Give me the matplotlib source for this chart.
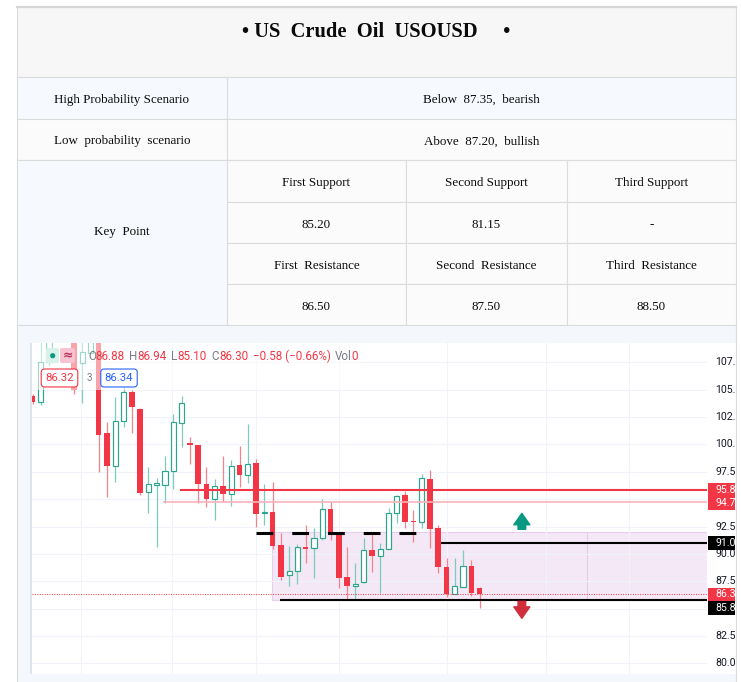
import matplotlib
matplotlib.use("Agg")
import matplotlib.pyplot as plt
from matplotlib.patches import Rectangle, FancyBboxPatch, Circle

# ---------------- data ----------------
title = "• US  Crude  Oil  USOUSD     •"
row_labels = ["High Probability Scenario", "Low  probability  scenario", "Key  Point"]
row_values = ["Below  87.35,  bearish", "Above  87.20,  bullish"]
support_headers = ["First Support", "Second Support", "Third Support"]
support_values = ["85.20", "81.15", "-"]
resist_headers = ["First  Resistance", "Second  Resistance", "Third  Resistance"]
resist_values = ["86.50", "87.50", "88.50"]

opens = [104.40, 103.85, 107.50, 109.80, 110.60, 110.20, 107.40, 108.32, 109.60, 101.02,
         98.00, 102.11, 104.76, 103.21, 95.63, 96.27, 96.27, 97.55, 101.93, 100.10,
         99.92, 96.36, 94.99, 96.18, 95.45, 98.09, 97.18, 98.28, 93.71, 93.80,
         90.79, 88.05, 88.41, 90.61, 90.52, 91.43, 94.08, 91.88, 87.87, 87.04,
         87.41, 90.33, 89.78, 90.42, 93.71, 95.35, 92.98, 92.89, 96.82, 92.34,
         88.78, 86.31, 86.95, 88.87, 86.88]
highs = [104.60, 109.60, 110.20, 111.00, 111.20, 110.80, 109.50, 110.00, 110.20, 102.02,
         104.30, 105.22, 104.94, 103.30, 97.91, 96.91, 98.92, 102.75, 104.39, 100.65,
         99.95, 97.91, 96.82, 98.92, 98.55, 99.83, 101.84, 98.64, 96.36, 96.54,
         91.88, 90.70, 90.88, 92.61, 92.34, 94.99, 94.71, 91.97, 90.61, 89.14,
         91.43, 91.88, 90.97, 94.17, 95.35, 95.72, 93.98, 97.27, 97.64, 92.61,
         89.60, 89.60, 90.33, 89.42, 86.94]
lows = [103.70, 103.57, 107.20, 109.50, 109.60, 104.60, 103.76, 108.00, 97.45, 95.17,
        96.54, 101.56, 101.02, 95.35, 93.71, 90.61, 94.62, 95.90, 99.74, 98.18,
        94.62, 94.26, 93.07, 94.71, 94.35, 96.08, 96.45, 92.43, 92.61, 90.42,
        87.59, 87.04, 87.23, 89.14, 87.77, 91.24, 91.24, 86.86, 85.76, 85.76,
        87.32, 88.32, 86.40, 90.42, 92.80, 92.34, 91.06, 92.34, 90.52, 88.23,
        86.04, 86.31, 86.95, 86.13, 85.10]
closes = [103.85, 107.50, 109.80, 110.60, 110.20, 104.94, 108.40, 109.60, 100.83, 98.00,
          102.11, 104.76, 103.39, 95.54, 96.36, 96.45, 97.55, 102.02, 103.76, 99.92,
          96.36, 94.99, 96.18, 95.45, 98.00, 97.18, 98.18, 93.62, 93.80, 90.70,
          87.87, 88.41, 90.61, 90.42, 91.43, 94.08, 91.88, 87.77, 87.04, 87.23,
          90.33, 89.78, 90.42, 93.71, 95.26, 92.89, 92.89, 96.91, 92.25, 88.78,
          86.31, 87.04, 88.87, 86.40, 86.30]

price_ticks = [80.0, 82.5, 85.0, 87.5, 90.0, 92.5, 95.0, 97.5, 100.0, 102.5, 105.0, 107.5]
time_grid = [5.9, 16.9, 27.0, 37.0, 50.0, 62.0, 72.0]

# drawn levels
resist_red = (95.86, 17.8)
resist_pink = (94.74, 15.8)
dashed_level = (91.93, 27.0, 47.2)
upper_black = (91.00, 49.3)
lower_black = (85.80, 29.9)
last_price = 86.31
zone = (28.9, 85.80, 92.00)   # start index, low, high
zone_divider = 67.0
arrow_up = (59.1, 92.25, 93.71)
arrow_down = (59.1, 85.67, 84.12)

scale_labels = [(95.86, "#f23645"), (94.74, "#f23645"), (91.00, "#000000"),
                (86.31, "#f23645"), (85.80, "#000000")]
SCALE_CHARS = 4  # the price scale is cut off after four characters

legend_parts = [("O", "#787b86"), ("86.88", "#f23645"), ("H", "#787b86"), ("86.94", "#f23645"),
                ("L", "#787b86"), ("85.10", "#f23645"), ("C", "#787b86"), ("86.30", "#f23645"),
                ("−0.58 (−0.66%)", "#f23645"), ("Vol", "#787b86"), ("0", "#f23645")]
legend_gaps = [0, 0, 4.5, 0, 4.5, 0, 4.5, 0, 4.5, 4.5, 0]
bid_price, ask_price, spread = "86.32", "86.34", "3"

# ---------------- figure ----------------
W, H, DPI = 741, 682, 100
fig = plt.figure(figsize=(W / DPI, H / DPI), dpi=DPI)
fig.patch.set_facecolor("white")

bg = fig.add_axes([0, 0, 1, 1])
bg.set_xlim(0, W)
bg.set_ylim(H, 0)
bg.axis("off")

BORDER = "#dcdcdc"
SERIF = "Liberation Serif"


def cell(x0, y0, x1, y1, fc):
    bg.add_patch(Rectangle((x0, y0), x1 - x0, y1 - y0, facecolor=fc, edgecolor=BORDER, lw=0.8))


def ctext(x, y, s, size=9.4, weight="normal"):
    bg.text(x, y + 1.8, s, ha="center", va="center", fontsize=size, fontweight=weight,
            family=SERIF, color="#0a0a0a")


L, R = 17, 736
C1, C2, C3 = 227, 406, 567
cell(L, 7, R, 77, "#f7f7f7")
bg.plot([L, R], [7, 7], color="#d6d6d6", lw=1.6)
ctext((L + R) / 2, 30, title, size=14.8, weight="bold")

cell(L, 77, C1, 119, "#f6f9fd")
cell(C1, 77, R, 119, "#f6f9fd")
ctext((L + C1) / 2, 98, row_labels[0])
ctext((C1 + R) / 2, 98, row_values[0])

cell(L, 119, C1, 160, "#fbfbfb")
cell(C1, 119, R, 160, "#fbfbfb")
ctext((L + C1) / 2, 139.5, row_labels[1])
ctext((C1 + R) / 2, 139.5, row_values[1])

cell(L, 160, C1, 325, "#f6f9fd")
ctext((L + C1) / 2, 230.5, row_labels[2])
cols = [C1, C2, C3, R]
rows = [160, 201.5, 243, 284, 325]
sub_rows = [support_headers, support_values, resist_headers, resist_values]
for r in range(4):
    for c in range(3):
        cell(cols[c], rows[r], cols[c + 1], rows[r + 1], "#fbfbfb")
        ctext((cols[c] + cols[c + 1]) / 2, (rows[r] + rows[r + 1]) / 2 + 0.5, sub_rows[r][c])

# chart cell
cell(L, 325, R, 690, "#f4f7fb")
bg.add_patch(Rectangle((30, 343), 2.3, 331, facecolor="#dfe3eb", edgecolor="none"))

# ---------------- chart ----------------
PX_X0, PX_X1, PX_Y0, PX_Y1 = 32.3, 707, 343, 674
STEP, X_ORIGIN = 8.28, 32.5
PPU, Y_REF, P_REF = 10.95, 362.3, 107.5


def px_to_price(y):
    return P_REF - (y - Y_REF) / PPU


ylim = (px_to_price(PX_Y1), px_to_price(PX_Y0))
xlim = ((PX_X0 - X_ORIGIN) / STEP, (PX_X1 - X_ORIGIN) / STEP)

ax = fig.add_axes([PX_X0 / W, 1 - PX_Y1 / H, (PX_X1 - PX_X0) / W, (PX_Y1 - PX_Y0) / H])
ax.set_facecolor("white")
ax.set_xlim(*xlim)
ax.set_ylim(*ylim)
ax.set_yticks(price_ticks)
ax.set_xticks(time_grid)
ax.grid(True, color="#f0f3fa", lw=0.8, zorder=0)
ax.tick_params(length=0, labelleft=False, labelbottom=False)
for s in ax.spines.values():
    s.set_visible(False)

UP_EDGE, UP_WICK = "#2ca58d", "#7ccbbb"
DN_BODY, DN_WICK = "#f23645", "#f5838d"

ax.add_patch(Rectangle((zone[0], zone[1]), xlim[1] - zone[0] + 1, zone[2] - zone[1],
                       facecolor="#f3e5f5", edgecolor="#e6c8ec", lw=0.8, alpha=0.85, zorder=1))
ax.vlines(zone_divider, zone[1], zone[2], color="#e6c8ec", lw=0.8, zorder=1)

for i, (o, h, l, c) in enumerate(zip(opens, highs, lows, closes)):
    up = c >= o
    ax.vlines(i, l, h, color=UP_WICK if up else DN_WICK, lw=0.9, zorder=3)
    bottom = min(o, c)
    height = max(abs(c - o), 0.1)
    if up:
        ax.bar(i, height, 0.62, bottom, facecolor="white", edgecolor=UP_EDGE, lw=0.85, zorder=4)
    else:
        ax.bar(i, height, 0.66, bottom, color=DN_BODY, lw=0, zorder=4)

right = xlim[1] + 1
ax.hlines(resist_red[0], resist_red[1], right, color="#f23645", lw=1.5, zorder=5)
ax.hlines(resist_pink[0], resist_pink[1], right, color="#f8b3ba", lw=1.2, zorder=5)
ax.hlines(dashed_level[0], dashed_level[1], dashed_level[2], color="black", lw=2.2,
          linestyles=(0, (5.5, 6.2)), zorder=5)
ax.hlines(upper_black[0], upper_black[1], right, color="black", lw=1.5, zorder=5)
ax.hlines(lower_black[0], lower_black[1], right, color="black", lw=1.5, zorder=5)
ax.axhline(last_price, color="#f23645", lw=0.7, ls=(0, (1, 1.5)), zorder=5)

for (xa, base, tip), col in [(arrow_up, "#089981"), (arrow_down, "#d12f3c")]:
    ax.annotate("", xy=(xa, tip), xytext=(xa, base),
                arrowprops=dict(arrowstyle="simple,head_length=0.75,head_width=1.05,tail_width=0.5",
                                color=col, shrinkA=0, shrinkB=0, mutation_scale=11), zorder=6)

# price scale (cell ends at x=735, the scale is cut there)
CELL_R = 735
ps = fig.add_axes([PX_X1 / W, 1 - PX_Y1 / H, (W - PX_X1) / W, (PX_Y1 - PX_Y0) / H])
ps.set_facecolor("white")
ps.set_ylim(*ylim)
ps.set_xlim(0, W - PX_X1)
ps.set_xticks([])
ps.set_yticks([])
for s in ps.spines.values():
    s.set_visible(False)

SCALE_FONT = "Roboto"
SCALE_SIZE = 7.6
box_h = 13.5 / PPU

# label boxes, pushed down where they would collide
box_centers = []
prev = None
for price, col in sorted(scale_labels, key=lambda p: -p[0]):
    cy = price if prev is None else min(price, prev - box_h)
    prev = cy
    box_centers.append(cy)
    ps.add_patch(Rectangle((1, cy - box_h / 2), CELL_R - PX_X1 - 1, box_h, facecolor=col,
                           edgecolor="none", zorder=5))
    ps.text(8.5, cy, f"{price:.2f}"[:SCALE_CHARS], ha="left", va="center", fontsize=SCALE_SIZE,
            color="white", family=SCALE_FONT, zorder=6)

# tick labels hidden behind a label box are not drawn (as on the scale)
for v in price_ticks:
    if any(abs(v - cy) < 0.6 for cy in box_centers):
        continue
    ps.text(8.5, v, f"{v:.2f}"[:SCALE_CHARS], ha="left", va="center", fontsize=SCALE_SIZE,
            color="#131722", family=SCALE_FONT, zorder=2)

# ---------------- legend overlay ----------------
ov = fig.add_axes([0, 0, 1, 1], zorder=10)
ov.set_xlim(0, W)
ov.set_ylim(H, 0)
ov.axis("off")
ov.patch.set_alpha(0)

ov.plot([CELL_R + 0.5, CELL_R + 0.5], [325, H], color=BORDER, lw=0.8)
ov.add_patch(Rectangle((PX_X0, PX_Y0), 330, 47, facecolor="white", edgecolor="none", alpha=0.55))
ov.add_patch(FancyBboxPatch((46, 348), 13, 15, boxstyle="round,pad=0,rounding_size=2",
                            facecolor="#d8f1ea", edgecolor="none"))
ov.add_patch(Circle((52.7, 355.7), 2.6, facecolor="#089981", edgecolor="none"))
ov.add_patch(FancyBboxPatch((60, 348), 15, 15, boxstyle="round,pad=0,rounding_size=2",
                            facecolor="#f7c3d0", edgecolor="none"))
ov.text(67.5, 355.5, "≈", ha="center", va="center", fontsize=9, color="#b8335a",
        family="DejaVu Sans", fontweight="bold")

fig.canvas.draw()
rend = fig.canvas.get_renderer()
xcur = 88
for (s, col), gap in zip(legend_parts, legend_gaps):
    xcur += gap
    t = ov.text(xcur, 356.5, s, ha="left", va="center", fontsize=8.4, color=col, family=SCALE_FONT)
    xcur += t.get_window_extent(renderer=rend).width

ov.text(59.5, 378, bid_price, ha="center", va="center", fontsize=8.2, color="#f23645",
        family=SCALE_FONT,
        bbox=dict(boxstyle="round,pad=0.35,rounding_size=0.3", facecolor="white",
                  edgecolor="#f23645", lw=0.8))
ov.text(89, 378, spread, ha="center", va="center", fontsize=7, color="#787b86", family=SCALE_FONT)
ov.text(119, 378, ask_price, ha="center", va="center", fontsize=8.2, color="#2962ff",
        family=SCALE_FONT,
        bbox=dict(boxstyle="round,pad=0.35,rounding_size=0.3", facecolor="white",
                  edgecolor="#2962ff", lw=0.8))

fig.savefig("out.png", dpi=DPI, facecolor="white")
